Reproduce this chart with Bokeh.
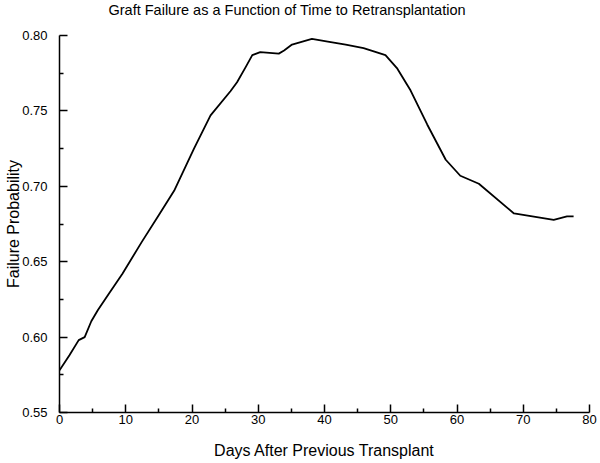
from bokeh.plotting import figure
from bokeh.models import Range1d, FixedTicker, NumeralTickFormatter
from bokeh.embed import file_html
from bokeh.resources import INLINE

# ---- data ----
days = [0, 1.5, 2.9, 3.8, 4.8, 5.8, 7.5, 9.5, 12.4, 15.0, 17.3, 20.3, 22.8,
        25.8, 26.8, 28.1, 29.1, 30.3, 33.1, 33.9, 35.1, 38.1, 40.5, 43.2,
        45.9, 49.2, 51.0, 53.0, 55.5, 58.3, 60.5, 63.3, 68.6, 74.6, 76.6, 77.6]
failure_prob = [0.578, 0.588, 0.598, 0.600, 0.6105, 0.618, 0.629, 0.642, 0.663,
                0.681, 0.697, 0.725, 0.747, 0.763, 0.769, 0.779, 0.787, 0.789,
                0.788, 0.790, 0.794, 0.7977, 0.796, 0.794, 0.7916, 0.787, 0.778,
                0.7635, 0.741, 0.7176, 0.707, 0.7017, 0.682, 0.6778, 0.680, 0.680]

x_ticks = [0, 10, 20, 30, 40, 50, 60, 70, 80]
x_minor = [5, 15, 25, 35, 45, 55, 65, 75]
y_ticks = [0.55, 0.60, 0.65, 0.70, 0.75, 0.80]
y_minor = [0.575, 0.625, 0.675, 0.725, 0.775]

title_text = "Graft Failure as a Function of Time to Retransplantation"
x_label = "Days After Previous Transplant"
y_label = "Failure Probability"

FONT = "Liberation Sans"

p = figure(width=600, height=463, output_backend="svg", toolbar_location=None,
           title=title_text + "\n ",
           x_range=Range1d(0, 80), y_range=Range1d(0.55, 0.80),
           min_border_left=59, min_border_right=11, min_border_top=35,
           min_border_bottom=51)
p.xgrid.visible = False
p.ygrid.visible = False
p.outline_line_color = None
p.background_fill_color = "white"
p.border_fill_color = "white"

p.title.text_font = FONT
p.title.text_font_size = "14.5px"
p.title.text_font_style = "normal"
p.title.text_color = "black"
p.title.text_line_height = 1.0
p.title.align = "left"
p.title.offset = 49
p.title.vertical_align = "top"
p.title.standoff = 0

p.line(days, failure_prob, line_color="black", line_width=1.8, line_join="round")

p.xaxis.ticker = FixedTicker(ticks=x_ticks, minor_ticks=x_minor)
p.yaxis.ticker = FixedTicker(ticks=y_ticks, minor_ticks=y_minor)
p.yaxis.formatter = NumeralTickFormatter(format="0.00")

for ax in p.axis:
    ax.major_tick_in = 8
    ax.major_tick_out = 0
    ax.minor_tick_in = 4
    ax.minor_tick_out = 0
    ax.axis_line_width = 1.5
    ax.major_tick_line_width = 1.5
    ax.minor_tick_line_width = 1.5
    ax.axis_line_color = "black"
    ax.major_tick_line_color = "black"
    ax.minor_tick_line_color = "black"
    ax.major_label_text_font = FONT
    ax.major_label_text_font_size = "13px"
    ax.major_label_text_color = "black"
    ax.axis_label_text_font = FONT
    ax.axis_label_text_font_size = "16px"
    ax.axis_label_text_font_style = "normal"
    ax.axis_label_text_color = "black"

p.xaxis.major_label_standoff = 2
p.xaxis.axis_label = x_label
p.xaxis.axis_label_standoff = 15

p.yaxis.major_label_standoff = 12
p.yaxis.axis_label = y_label
p.yaxis.axis_label_standoff = -3

open("out.html", "w").write(file_html(p, INLINE))
